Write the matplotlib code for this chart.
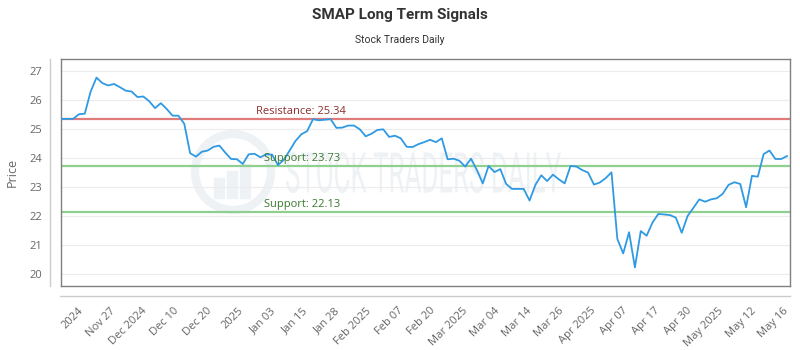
import numpy as np
import matplotlib.pyplot as plt
from matplotlib.lines import Line2D
from matplotlib.patches import Circle, Rectangle, PathPatch
from matplotlib.textpath import TextPath
from matplotlib.font_manager import FontProperties
import matplotlib.transforms as mtransforms

plt.rcParams['font.family'] = ['Open Sans', 'DejaVu Sans']

# price series (one value per trading day)
prices = [25.35, 25.35, 25.35, 25.51, 25.53, 26.29, 26.77, 26.58, 26.50, 26.55,
          26.44, 26.32, 26.29, 26.10, 26.12, 25.96, 25.72, 25.89, 25.69, 25.46,
          25.46, 25.18, 24.17, 24.05, 24.22, 24.26, 24.39, 24.43, 24.19, 23.97,
          23.96, 23.80, 24.13, 24.15, 24.03, 24.13, 24.12, 23.76, 23.94, 24.26,
          24.59, 24.82, 24.93, 25.34, 25.30, 25.32, 25.34, 25.04, 25.05, 25.12,
          25.12, 24.99, 24.75, 24.84, 24.97, 24.99, 24.73, 24.77, 24.68, 24.39,
          24.38, 24.48, 24.55, 24.63, 24.55, 24.68, 23.96, 23.98, 23.91, 23.71,
          23.98, 23.59, 23.13, 23.73, 23.52, 23.62, 23.11, 22.94, 22.94, 22.94,
          22.54, 23.08, 23.41, 23.21, 23.43, 23.27, 23.13, 23.73, 23.71, 23.59,
          23.50, 23.09, 23.16, 23.31, 23.51, 21.22, 20.72, 21.45, 20.24, 21.49,
          21.33, 21.78, 22.08, 22.06, 22.04, 21.95, 21.43, 22.01, 22.29, 22.58,
          22.50, 22.58, 22.62, 22.77, 23.08, 23.17, 23.11, 22.31, 23.39, 23.36,
          24.14, 24.26, 23.97, 23.97, 24.07]

tick_labels = ['2024', 'Nov 27', 'Dec 2024', 'Dec 10', 'Dec 20', '2025', 'Jan 03',
               'Jan 15', 'Jan 28', 'Feb 2025', 'Feb 07', 'Feb 20', 'Mar 2025',
               'Mar 04', 'Mar 14', 'Mar 26', 'Apr 2025', 'Apr 07', 'Apr 17',
               'Apr 30', 'May 2025', 'May 12', 'May 16']

resistance = 25.34
supports = [23.73, 22.13]

W, H = 800, 350
fig = plt.figure(figsize=(8, 3.5), dpi=100, facecolor='white')
ax = fig.add_axes([60.5 / W, 1 - 286 / H, (790 - 60.5) / W, (286 - 59) / H])
ax.patch.set_visible(False)

x = np.arange(len(prices))
ax.set_xlim(-0.15, len(prices) - 0.5)
ax.set_ylim(19.6, 27.41)

# grid
ax.set_yticks(range(20, 28))
ax.grid(axis='y', color='#ececec', lw=0.8)
ax.set_axisbelow(True)

# watermark (logo ring + bars + condensed text), in pixel coords, behind the axes
wm_color = '#eef2f5'
fig.add_artist(Circle((233, H - 172), 38, transform=None, fill=False,
                      ec=wm_color, lw=6, zorder=-1))
for bx, bh in [(214, 20), (227, 27), (240, 34)]:
    fig.add_artist(Rectangle((bx, H - 198), 10, bh, transform=None,
                             color=wm_color, zorder=-1))
tp = TextPath((0, 0), 'STOCK TRADERS DAILY', size=40,
              prop=FontProperties(family='Roboto'))
ext = tp.get_extents()
sx = 275 / ext.width
sy = 41 / ext.height
wm_tr = mtransforms.Affine2D().translate(-ext.x0, -ext.y0).scale(sx, sy) \
    .translate(286, H - 193)
fig.add_artist(PathPatch(tp, transform=wm_tr, color=wm_color, lw=0, zorder=-1))

# signal lines
ax.axhline(resistance, color='#e07b7b', lw=1.6, zorder=2)
for s in supports:
    ax.axhline(s, color='#8fcf8f', lw=1.6, zorder=2)

trans = mtransforms.blended_transform_factory(ax.transAxes, ax.transData)
ax.text(0.268, resistance + 0.07, f'Resistance: {resistance}', transform=trans,
        color='#8b2e2e', fontsize=8, va='bottom', zorder=4)
for s in supports:
    ax.text(0.279, s + 0.07, f'Support: {s}', transform=trans,
            color='#3a7a2e', fontsize=8, va='bottom', zorder=4)

ax.plot(x, prices, color='#2f9ae3', lw=1.3, zorder=3)

# axes look
for sp in ax.spines.values():
    sp.set_color('#808080')
    sp.set_linewidth(1)

ax.tick_params(axis='y', length=0, pad=13, labelsize=8, labelcolor='#666666')
ax.set_xticks(np.linspace(2.8, 123.2, len(tick_labels)))
ax.set_xticklabels(tick_labels, rotation=45, ha='right', rotation_mode='anchor')
ax.tick_params(axis='x', length=0, pad=14, labelsize=8, labelcolor='#666666')
ax.set_ylabel('Price', fontsize=9, color='#666666', labelpad=8)

# offset axis lines
fig.add_artist(Line2D([50 / W, 50 / W], [1 - 59 / H, 1 - 286 / H], color='#cccccc', lw=1))
fig.add_artist(Line2D([60 / W, 790 / W], [1 - 296 / H, 1 - 296 / H], color='#cccccc', lw=1))

fig.text(0.5, 1 - 15 / H, 'SMAP Long Term Signals', ha='center', va='center',
         fontsize=11, fontweight='bold', color='#333333', family='Roboto')
fig.text(0.5, 1 - 40 / H, 'Stock Traders Daily', ha='center', va='center',
         fontsize=7.5, color='#333333', family='Roboto')

fig.savefig('out.png', dpi=100, facecolor='white')
